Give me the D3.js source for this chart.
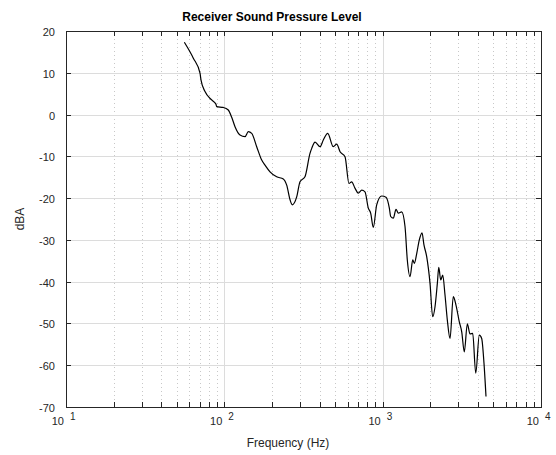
<!DOCTYPE html>
<html><head><meta charset="utf-8">
<script src="https://cdn.jsdelivr.net/npm/d3@7"></script>
<style>body{margin:0;background:#fff}svg{display:block;font-family:"Liberation Sans",Arial,sans-serif}</style>
</head><body><svg id="c" width="556" height="455"></svg>
<script>
const freqHz = [55.9,63.7,70.2,71.2,75.5,83.2,88.5,89.5,98.5,105.9,111.3,116.8,125.6,135.1,141.7,148.9,160.1,172.2,180.7,194.3,214.1,235.7,247.7,260.0,268.7,286.4,300.6,323.0,347.5,356.4,374.1,402,421.8,449.6,487.9,512.6,538.2,578.3,612.7,637.0,668.3,701.5,737.6,773.3,811.6,840.0,872.9,916.8,986,1050,1102,1124,1167,1214,1256,1319,1384,1431,1489,1549,1585,1642,1704,1772,1823,1897,1991,2070,2141,2215,2261,2327,2395,2476,2561,2663,2793,2904,3048,3157,3278,3425,3562,3704,3871,4077,4221,4364,4494];
const levelDBA = [17.3,13.5,9.9,8.3,5.5,3.5,2.5,1.9,1.7,1.1,-0.65,-2.9,-4.9,-5.3,-4.1,-4.5,-7.7,-10.9,-12.1,-13.7,-14.9,-15.4,-16.9,-20.4,-21.6,-19.7,-16.1,-14.9,-9.3,-8.1,-6.6,-7.7,-6.1,-4.5,-7.7,-7.1,-8.9,-10.1,-16.5,-16.1,-17.6,-18.8,-18.1,-18.5,-22.4,-23.6,-27.0,-21.6,-19.5,-19.8,-22.4,-24.4,-24.8,-22.7,-23.6,-23.3,-26.8,-34.8,-38.8,-34.8,-35.6,-33.2,-30.0,-28.3,-31.2,-34.0,-40.4,-48.4,-46.0,-40.4,-36.6,-39.6,-38.4,-43.2,-49.2,-53.6,-43.6,-45.6,-49.6,-52.0,-56.8,-50.1,-52.5,-52.4,-61.9,-52.8,-53.6,-59.5,-67.5];
const yTicks = [20,10,0,-10,-20,-30,-40,-50,-60,-70];
const xDecadeExps = [1,2,3,4];
const titleText = "Receiver Sound Pressure Level";
const xLabel = "Frequency (Hz)";
const yLabel = "dBA";

const svg = d3.select("#c");
const L=66,R=541,T=31,B=407;
const x = d3.scaleLog().domain([10,10000]).range([L,R]);
const y = d3.scaleLinear().domain([-70,20]).range([B,T]);

const minors=[];
for(let e=1;e<4;e++){for(let k=2;k<=9;k++)minors.push(k*Math.pow(10,e));}
const g = svg.append("g");
g.selectAll(".mx").data(minors).enter().append("line")
 .attr("x1",d=>Math.round(x(d))+0.5).attr("x2",d=>Math.round(x(d))+0.5).attr("y1",T).attr("y2",B)
 .attr("stroke","#c8c8c8").attr("stroke-width",1).attr("stroke-dasharray","1,3");
g.selectAll(".Mx").data(xDecadeExps.slice(1,3)).enter().append("line")
 .attr("x1",d=>Math.round(x(Math.pow(10,d)))+0.5).attr("x2",d=>Math.round(x(Math.pow(10,d)))+0.5).attr("y1",T).attr("y2",B)
 .attr("stroke","#dcdcdc").attr("stroke-width",1);
g.selectAll(".My").data(yTicks.slice(1,-1)).enter().append("line")
 .attr("x1",L).attr("x2",R).attr("y1",d=>Math.round(y(d))+0.5).attr("y2",d=>Math.round(y(d))+0.5)
 .attr("stroke","#dcdcdc").attr("stroke-width",1);

const tc="#262626";
const ax = svg.append("g");
ax.append("rect").attr("x",L+0.5).attr("y",T+0.5).attr("width",R-L).attr("height",B-T)
 .attr("fill","none").attr("stroke",tc).attr("stroke-width",1);
const allX = minors.concat(xDecadeExps.map(e=>Math.pow(10,e)));
allX.forEach(d=>{
  const xx=Math.round(x(d))+0.5;
  ax.append("line").attr("x1",xx).attr("x2",xx).attr("y1",B).attr("y2",B-5).attr("stroke",tc);
  ax.append("line").attr("x1",xx).attr("x2",xx).attr("y1",T).attr("y2",T+5).attr("stroke",tc);
});
yTicks.forEach(d=>{
  const yy=Math.round(y(d))+0.5;
  ax.append("line").attr("x1",L).attr("x2",L+5).attr("y1",yy).attr("y2",yy).attr("stroke",tc);
  ax.append("line").attr("x1",R).attr("x2",R-5).attr("y1",yy).attr("y2",yy).attr("stroke",tc);
  ax.append("text").attr("x",L-11).attr("y",yy+4).attr("text-anchor","end")
   .attr("font-size",11).attr("fill",tc).text(d);
});
xDecadeExps.forEach(e=>{
  const xx=x(Math.pow(10,e));
  ax.append("text").attr("x",xx-2).attr("y",B+18).attr("text-anchor","end").attr("font-size",11).attr("fill",tc).text("10");
  ax.append("text").attr("x",xx+4).attr("y",B+13).attr("text-anchor","start").attr("font-size",10).attr("fill",tc).text(e);
});

const line = d3.line().x((d,i)=>x(freqHz[i])).y(d=>y(d)).curve(d3.curveMonotoneX);
svg.append("path").datum(levelDBA).attr("d",line).attr("fill","none").attr("stroke","#000").attr("stroke-width",1.2);

svg.append("text").attr("x",272).attr("y",21).attr("text-anchor","middle").attr("font-size",12).attr("font-weight","bold").attr("fill","#000").text(titleText);
svg.append("text").attr("x",288).attr("y",447).attr("text-anchor","middle").attr("font-size",12).attr("fill",tc).text(xLabel);
svg.append("text").attr("transform","translate(24,219) rotate(-90)").attr("text-anchor","middle").attr("font-size",12).attr("fill",tc).text(yLabel);
</script></body></html>
